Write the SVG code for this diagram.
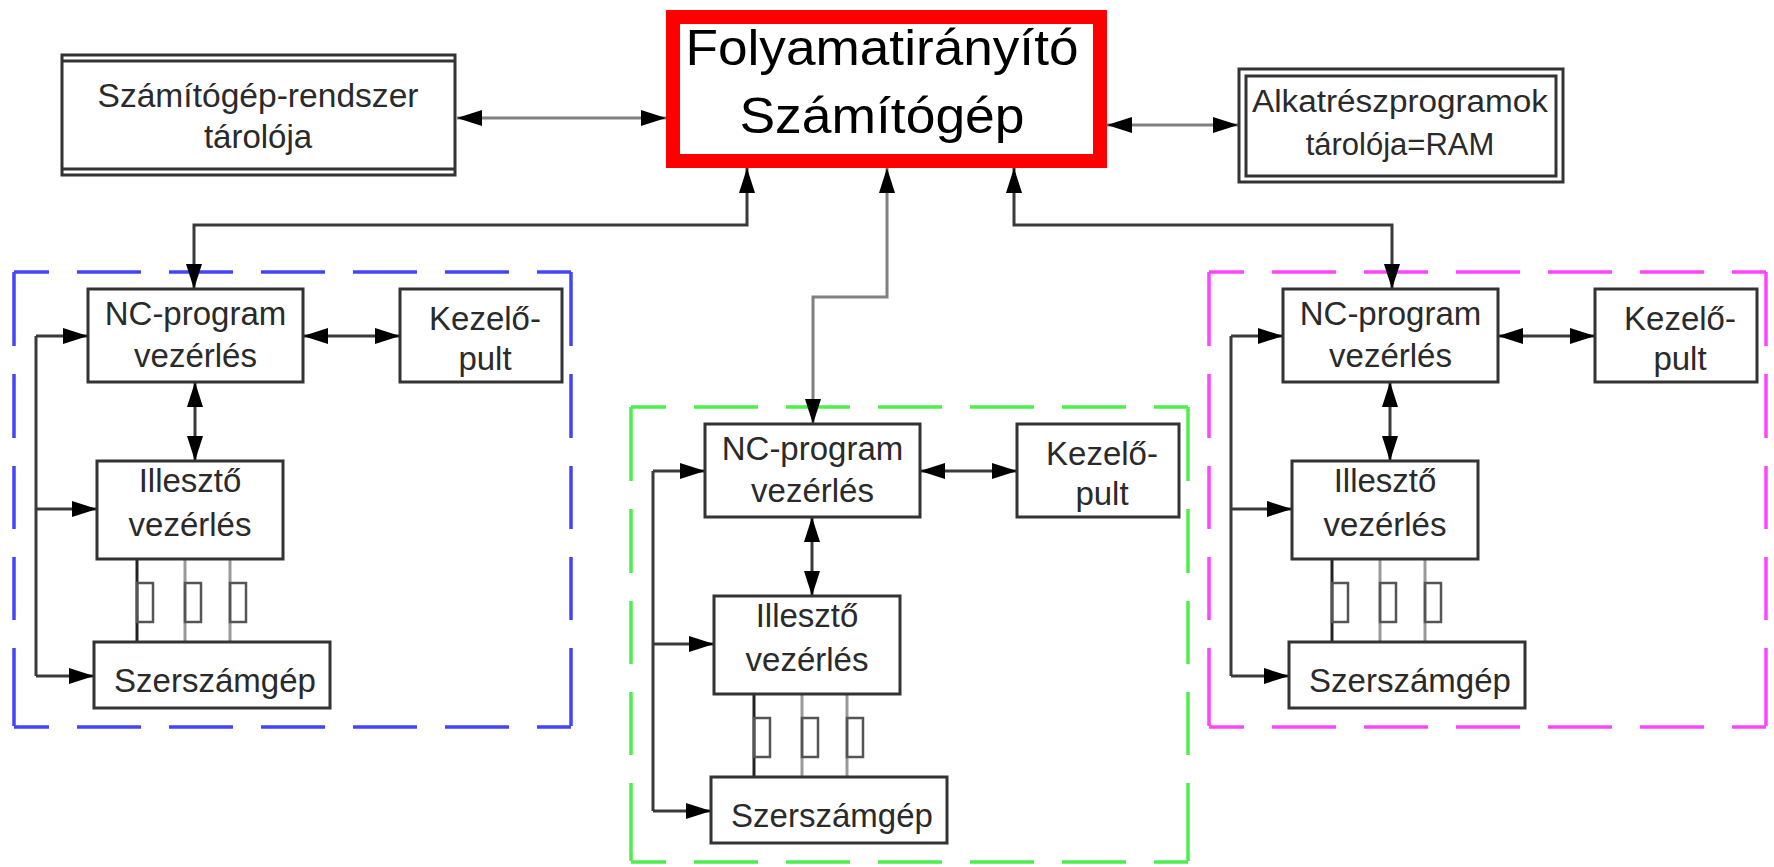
<svg xmlns="http://www.w3.org/2000/svg" width="1774" height="867" viewBox="0 0 1774 867">
<defs>
<marker id="ah" viewBox="0 0 25 18" markerWidth="25" markerHeight="18" refX="25" refY="9" orient="auto-start-reverse" markerUnits="userSpaceOnUse"><path d="M0,1 L25,9 L0,17 z" fill="#000"/></marker>
</defs>
<style>
.t{font-family:"Liberation Sans",Arial,sans-serif;fill:#2a2a2a;text-anchor:middle}
.s{font-size:33px}
.box{fill:#fff;stroke:#333;stroke-width:3}
.c{fill:none;stroke:#3a3a3a;stroke-width:3}
.cg{fill:none;stroke:#808080;stroke-width:3}
.bi{marker-start:url(#ah);marker-end:url(#ah)}
.e{marker-end:url(#ah)}
.dh{stroke-width:3.5;stroke-dasharray:35 28 64 28 64 28 64 28 64 28 64 28 36}
.dv{stroke-width:3.5;stroke-dasharray:74 28 64 28 63 28 63 28 78}
.l1{stroke:#222;stroke-width:3}
.l2{stroke:#9a9a9a;stroke-width:3}
.sr{fill:none;stroke:#555;stroke-width:2.5}
</style>
<rect width="1774" height="867" fill="#fff"/>

<g id="dashed-frames">
  <g id="frame-blue" stroke="#4444ff">
    <line class="dh" x1="14" y1="272" x2="571" y2="272"/>
    <line class="dh" x1="14" y1="727" x2="571" y2="727"/>
    <line class="dv" x1="14" y1="272" x2="14" y2="727"/>
    <line class="dv" x1="571" y1="272" x2="571" y2="727"/>
  </g>
  <g id="frame-green" stroke="#4cf04c" transform="translate(617,135)">
    <line class="dh" x1="14" y1="272" x2="571" y2="272"/>
    <line class="dh" x1="14" y1="727" x2="571" y2="727"/>
    <line class="dv" x1="14" y1="272" x2="14" y2="727"/>
    <line class="dv" x1="571" y1="272" x2="571" y2="727"/>
  </g>
  <g id="frame-magenta" stroke="#ff44ff" transform="translate(1195,0)">
    <line class="dh" x1="14" y1="272" x2="571" y2="272"/>
    <line class="dh" x1="14" y1="727" x2="571" y2="727"/>
    <line class="dv" x1="14" y1="272" x2="14" y2="727"/>
    <line class="dv" x1="571" y1="272" x2="571" y2="727"/>
  </g>
</g>

<g id="connectors">
  <line class="cg bi" x1="457" y1="118" x2="666" y2="118"/>
  <line class="cg bi" x1="1107" y1="125" x2="1238" y2="125"/>
  <path class="c bi" d="M747,168 V225 H194 V289"/>
  <path class="cg bi" d="M887,168 V297 H813 V424"/>
  <path class="c bi" d="M1014,168 V225 H1392 V289"/>
  <g id="conn-blue">
    <path class="c" d="M36,336 V676"/>
    <path class="c e" d="M36,336 H88"/>
    <path class="c e" d="M36,509 H97"/>
    <path class="c e" d="M36,676 H94"/>
    <path class="c bi" d="M303,336 H400"/>
    <path class="c bi" d="M195,382 V461"/>
    <line class="l1" x1="137" y1="559" x2="137" y2="642"/>
    <line class="l2" x1="185" y1="559" x2="185" y2="642"/>
    <line class="l2" x1="230" y1="559" x2="230" y2="642"/>
    <rect class="sr" x="137" y="583" width="16" height="39"/>
    <rect class="sr" x="185" y="583" width="16" height="39"/>
    <rect class="sr" x="230" y="583" width="16" height="39"/>
  </g>
  <g id="conn-green" transform="translate(617,135)">
    <path class="c" d="M36,336 V676"/>
    <path class="c e" d="M36,336 H88"/>
    <path class="c e" d="M36,509 H97"/>
    <path class="c e" d="M36,676 H94"/>
    <path class="c bi" d="M303,336 H400"/>
    <path class="c bi" d="M195,382 V461"/>
    <line class="l1" x1="137" y1="559" x2="137" y2="642"/>
    <line class="l2" x1="185" y1="559" x2="185" y2="642"/>
    <line class="l2" x1="230" y1="559" x2="230" y2="642"/>
    <rect class="sr" x="137" y="583" width="16" height="39"/>
    <rect class="sr" x="185" y="583" width="16" height="39"/>
    <rect class="sr" x="230" y="583" width="16" height="39"/>
  </g>
  <g id="conn-magenta" transform="translate(1195,0)">
    <path class="c" d="M36,336 V676"/>
    <path class="c e" d="M36,336 H88"/>
    <path class="c e" d="M36,509 H97"/>
    <path class="c e" d="M36,676 H94"/>
    <path class="c bi" d="M303,336 H400"/>
    <path class="c bi" d="M195,382 V461"/>
    <line class="l1" x1="137" y1="559" x2="137" y2="642"/>
    <line class="l2" x1="185" y1="559" x2="185" y2="642"/>
    <line class="l2" x1="230" y1="559" x2="230" y2="642"/>
    <rect class="sr" x="137" y="583" width="16" height="39"/>
    <rect class="sr" x="185" y="583" width="16" height="39"/>
    <rect class="sr" x="230" y="583" width="16" height="39"/>
  </g>
</g>

<g id="system-storage">
  <rect class="box" x="62" y="55" width="393" height="120" stroke-width="3.5"/>
  <line x1="62" y1="61" x2="455" y2="61" stroke="#333" stroke-width="3"/>
  <line x1="62" y1="169" x2="455" y2="169" stroke="#333" stroke-width="3"/>
  <text class="t" x="258" y="107" font-size="33" textLength="321" lengthAdjust="spacingAndGlyphs">Számítógép-rendszer</text>
  <text class="t" x="258" y="148" font-size="33">tárolója</text>
</g>

<g id="process-computer">
  <rect x="673" y="17" width="427" height="144" fill="#fff" stroke="#ff0000" stroke-width="14"/>
  <text class="t" x="882" y="65" font-size="50" style="fill:#000" textLength="393" lengthAdjust="spacingAndGlyphs">Folyamatirányító</text>
  <text class="t" x="882" y="133" font-size="50" style="fill:#000" textLength="285" lengthAdjust="spacingAndGlyphs">Számítógép</text>
</g>

<g id="part-programs-ram">
  <rect class="box" x="1239" y="69" width="324" height="113"/>
  <rect x="1246" y="76" width="310" height="100" fill="none" stroke="#333" stroke-width="3"/>
  <text class="t" x="1400" y="112" font-size="31" textLength="296" lengthAdjust="spacingAndGlyphs">Alkatrészprogramok</text>
  <text class="t" x="1400" y="155" font-size="31">tárolója=RAM</text>
</g>

<g id="nc-blue"><rect class="box" x="88" y="289" width="215" height="93"/><text class="t s" x="195.5" y="325">NC-program</text><text class="t s" x="195.5" y="367">vezérlés</text></g>
<g id="panel-blue"><rect class="box" x="400" y="289" width="162" height="93"/><text class="t s" x="485" y="330">Kezelő-</text><text class="t s" x="485" y="370">pult</text></g>
<g id="adapter-blue"><rect class="box" x="97" y="461" width="186" height="98"/><text class="t s" x="190" y="492">Illesztő</text><text class="t s" x="190" y="536">vezérlés</text></g>
<g id="machine-blue"><rect class="box" x="94" y="642" width="236" height="66"/><text class="t s" x="215" y="692">Szerszámgép</text></g>

<g id="nc-green" transform="translate(617,135)"><rect class="box" x="88" y="289" width="215" height="93"/><text class="t s" x="195.5" y="325">NC-program</text><text class="t s" x="195.5" y="367">vezérlés</text></g>
<g id="panel-green" transform="translate(617,135)"><rect class="box" x="400" y="289" width="162" height="93"/><text class="t s" x="485" y="330">Kezelő-</text><text class="t s" x="485" y="370">pult</text></g>
<g id="adapter-green" transform="translate(617,135)"><rect class="box" x="97" y="461" width="186" height="98"/><text class="t s" x="190" y="492">Illesztő</text><text class="t s" x="190" y="536">vezérlés</text></g>
<g id="machine-green" transform="translate(617,135)"><rect class="box" x="94" y="642" width="236" height="66"/><text class="t s" x="215" y="692">Szerszámgép</text></g>

<g id="nc-magenta" transform="translate(1195,0)"><rect class="box" x="88" y="289" width="215" height="93"/><text class="t s" x="195.5" y="325">NC-program</text><text class="t s" x="195.5" y="367">vezérlés</text></g>
<g id="panel-magenta" transform="translate(1195,0)"><rect class="box" x="400" y="289" width="162" height="93"/><text class="t s" x="485" y="330">Kezelő-</text><text class="t s" x="485" y="370">pult</text></g>
<g id="adapter-magenta" transform="translate(1195,0)"><rect class="box" x="97" y="461" width="186" height="98"/><text class="t s" x="190" y="492">Illesztő</text><text class="t s" x="190" y="536">vezérlés</text></g>
<g id="machine-magenta" transform="translate(1195,0)"><rect class="box" x="94" y="642" width="236" height="66"/><text class="t s" x="215" y="692">Szerszámgép</text></g>
</svg>
